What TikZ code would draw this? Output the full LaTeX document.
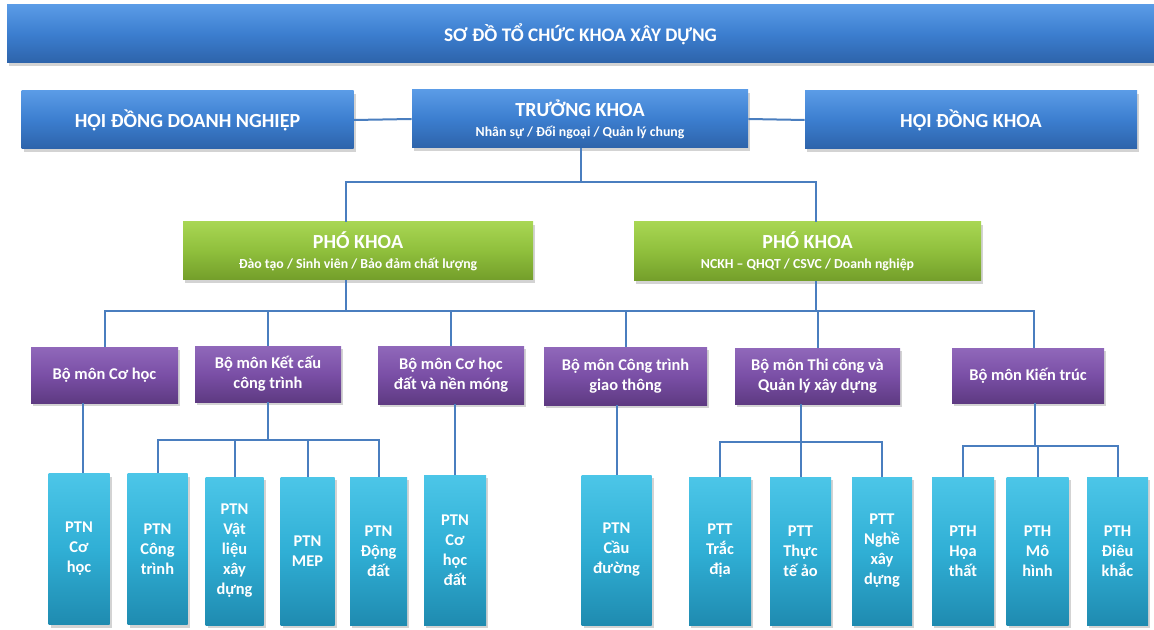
\documentclass[tikz,border=0pt]{standalone}
\usepackage{fontspec}
\setmainfont{Carlito}
\usepackage{tikz}
\usetikzlibrary{shadows}

\definecolor{lineblue}{HTML}{4A7EBF}
\definecolor{blueA}{HTML}{5A9BE6}
\definecolor{blueM}{HTML}{3C7ECF}
\definecolor{blueB}{HTML}{2D63AA}
\definecolor{greenA}{HTML}{A8D653}
\definecolor{greenM}{HTML}{8FBF3C}
\definecolor{greenB}{HTML}{739E2A}
\definecolor{purpA}{HTML}{9068BA}
\definecolor{purpM}{HTML}{7A4FA6}
\definecolor{purpB}{HTML}{5E3A82}
\definecolor{tealA}{HTML}{4CC6E8}
\definecolor{tealM}{HTML}{30AFD5}
\definecolor{tealB}{HTML}{1F8BB0}

\tikzset{
  wh/.style 2 args={minimum width=#1*.5pt, minimum height=#2*.5pt},
  unit/.style={inner sep=0pt, text=white, align=center, font=\bfseries,
    drop shadow={shadow xshift=1pt, shadow yshift=-1.5pt, opacity=.35}},
  blueunit/.style={unit, top color=blueA, bottom color=blueB, middle color=blueM},
  viceunit/.style={unit, top color=greenA, bottom color=greenB, middle color=greenM},
  deptunit/.style={unit, top color=purpA, bottom color=purpB, middle color=purpM,
    font=\bfseries\fontsize{8.2}{10}\selectfont},
  labunit/.style={unit, top color=tealA, bottom color=tealB, middle color=tealM, wh={61}{151},
    font=\bfseries\fontsize{8.2}{10}\selectfont},
  link/.style={draw=lineblue, line width=1pt}
}
\newcommand{\subline}[1]{{\fontsize{6.9}{8}\selectfont #1}}

\begin{document}
\begin{tikzpicture}[x=.5pt, y=-.5pt]
	\useasboundingbox (0,0) rectangle (1154,630);
	\node[blueunit, wh={1147}{58}, font=\bfseries\fontsize{9.6}{11}\selectfont] (title) at (580.5,34) {SƠ ĐỒ TỔ CHỨC KHOA XÂY DỰNG};
	\node[blueunit, wh={332}{58}, font=\bfseries\fontsize{10}{12}\selectfont] (hddn) at (187.5,120) {HỘI ĐỒNG DOANH NGHIỆP};
	\node[blueunit, wh={336}{58}, font=\bfseries\fontsize{10}{12}\selectfont] (tk) at (580,119) {TRƯỞNG KHOA\\[-2pt]\subline{Nhân sự / Đối ngoại / Quản lý chung}};
	\node[blueunit, wh={332}{58}, font=\bfseries\fontsize{10}{12}\selectfont] (hdk) at (971,120) {HỘI ĐỒNG KHOA};
	\node[viceunit, wh={350}{58}, font=\bfseries\fontsize{10}{12}\selectfont] (pk1) at (358,251) {PHÓ KHOA\\[-2pt]\subline{Đào tạo / Sinh viên / Bảo đảm chất lượng}};
	\node[viceunit, wh={347}{59}, font=\bfseries\fontsize{10}{12}\selectfont] (pk2) at (807.5,251.5) {PHÓ KHOA\\[-2pt]\subline{NCKH – QHQT / CSVC / Doanh nghiệp}};

	\node[deptunit, wh={147}{56}] (bm1) at (104.5,375) {Bộ môn Cơ học};
	\node[deptunit, wh={146}{56}] (bm2) at (268,374) {Bộ môn Kết cấu\\công trình};
	\node[deptunit, wh={146}{58}] (bm3) at (451,375) {Bộ môn Cơ học\\đất và nền móng};
	\node[deptunit, wh={163}{58}] (bm4) at (625.5,376) {Bộ môn Công trình\\giao thông};
	\node[deptunit, wh={165}{56}] (bm5) at (817.5,376) {Bộ môn Thi công và\\Quản lý xây dựng};
	\node[deptunit, wh={152}{55}] (bm6) at (1028,375.5) {Bộ môn Kiến trúc};

	\node[labunit] (p1) at (79,549) {PTN\\Cơ\\học};
	\node[labunit, wh={60}{151}] (p2) at (157.5,549) {PTN\\Công\\trình};
	\node[labunit, wh={58}{148}] (p3) at (234.5,551) {PTN\\Vật\\liệu\\xây\\dựng};
	\node[labunit, wh={54}{148}] (p4) at (307.5,551) {PTN\\MEP};
	\node[labunit, wh={57}{148}] (p5) at (378.5,551) {PTN\\Động\\đất};
	\node[labunit, wh={62}{150}] (p6) at (455,550) {PTN\\Cơ\\học\\đất};
	\node[labunit, wh={70}{150}] (p7) at (616.5,550) {PTN\\Cầu\\đường};
	\node[labunit, wh={62}{148}] (p8) at (720,551) {PTT\\Trắc\\địa};
	\node[labunit, wh={61}{148}] (p9) at (800.5,551) {PTT\\Thực\\tế ảo};
	\node[labunit, wh={60}{148}] (p10) at (882,551) {PTT\\Nghề\\xây\\dựng};
	\node[labunit, wh={62}{148}] (p11) at (963,551) {PTH\\Họa\\thất};
	\node[labunit, wh={62}{148}] (p12) at (1037.5,551) {PTH\\Mô\\hình};
	\node[labunit, wh={61}{148}] (p13) at (1117.5,551) {PTH\\Điêu\\khắc};

	\coordinate (j1) at (581,182);
	\coordinate (j2) at (346,311);
	\coordinate (j3) at (816,311);
	\coordinate (k2) at (268,440);
	\coordinate (k5) at (801,442);
	\coordinate (k6) at (1035,446);

	\draw[link] (hddn.east) -- (tk.west);
	\draw[link] (tk.east) -- (hdk.west);
	\draw[link] (tk.south -| j1) -- (j1);
	\draw[link] (pk1.north -| j2) |- (j1) -| (pk2.north -| j3);
	\draw[link] (pk1.south -| j2) -- (j2);
	\draw[link] (pk2.south -| j3) -- (j3);
	\draw[link] (bm1.north) |- (j2) -- (j3) -| ([xshift=3pt]bm6.north);
	\foreach \b in {bm2,bm3,bm4,bm5}
	  \draw[link] (\b.north) -- (\b.north |- j2);
	\draw[link] ([xshift=2pt]bm1.south -| p1.north) -- ([xshift=2pt]p1.north);
	\draw[link] (bm2.south -| k2) -- (k2);
	\draw[link] (p2.north) |- (k2) -| (p5.north);
	\foreach \p in {p3,p4}
	  \draw[link] (\p.north) -- (\p.north |- k2);
	\draw[link] (bm3.south -| p6.north) -- (p6.north);
	\draw[link] (bm4.south -| p7.north) -- (p7.north);
	\draw[link] (bm5.south -| k5) -- (k5);
	\draw[link] (p8.north) |- (k5) -| (p10.north);
	\draw[link] (p9.north) -- (p9.north |- k5);
	\draw[link] (bm6.south -| k6) -- (k6);
	\draw[link] (p11.north) |- (k6) -| (p13.north);
	\draw[link] (p12.north) -- (p12.north |- k6);
\end{tikzpicture}
\end{document}
